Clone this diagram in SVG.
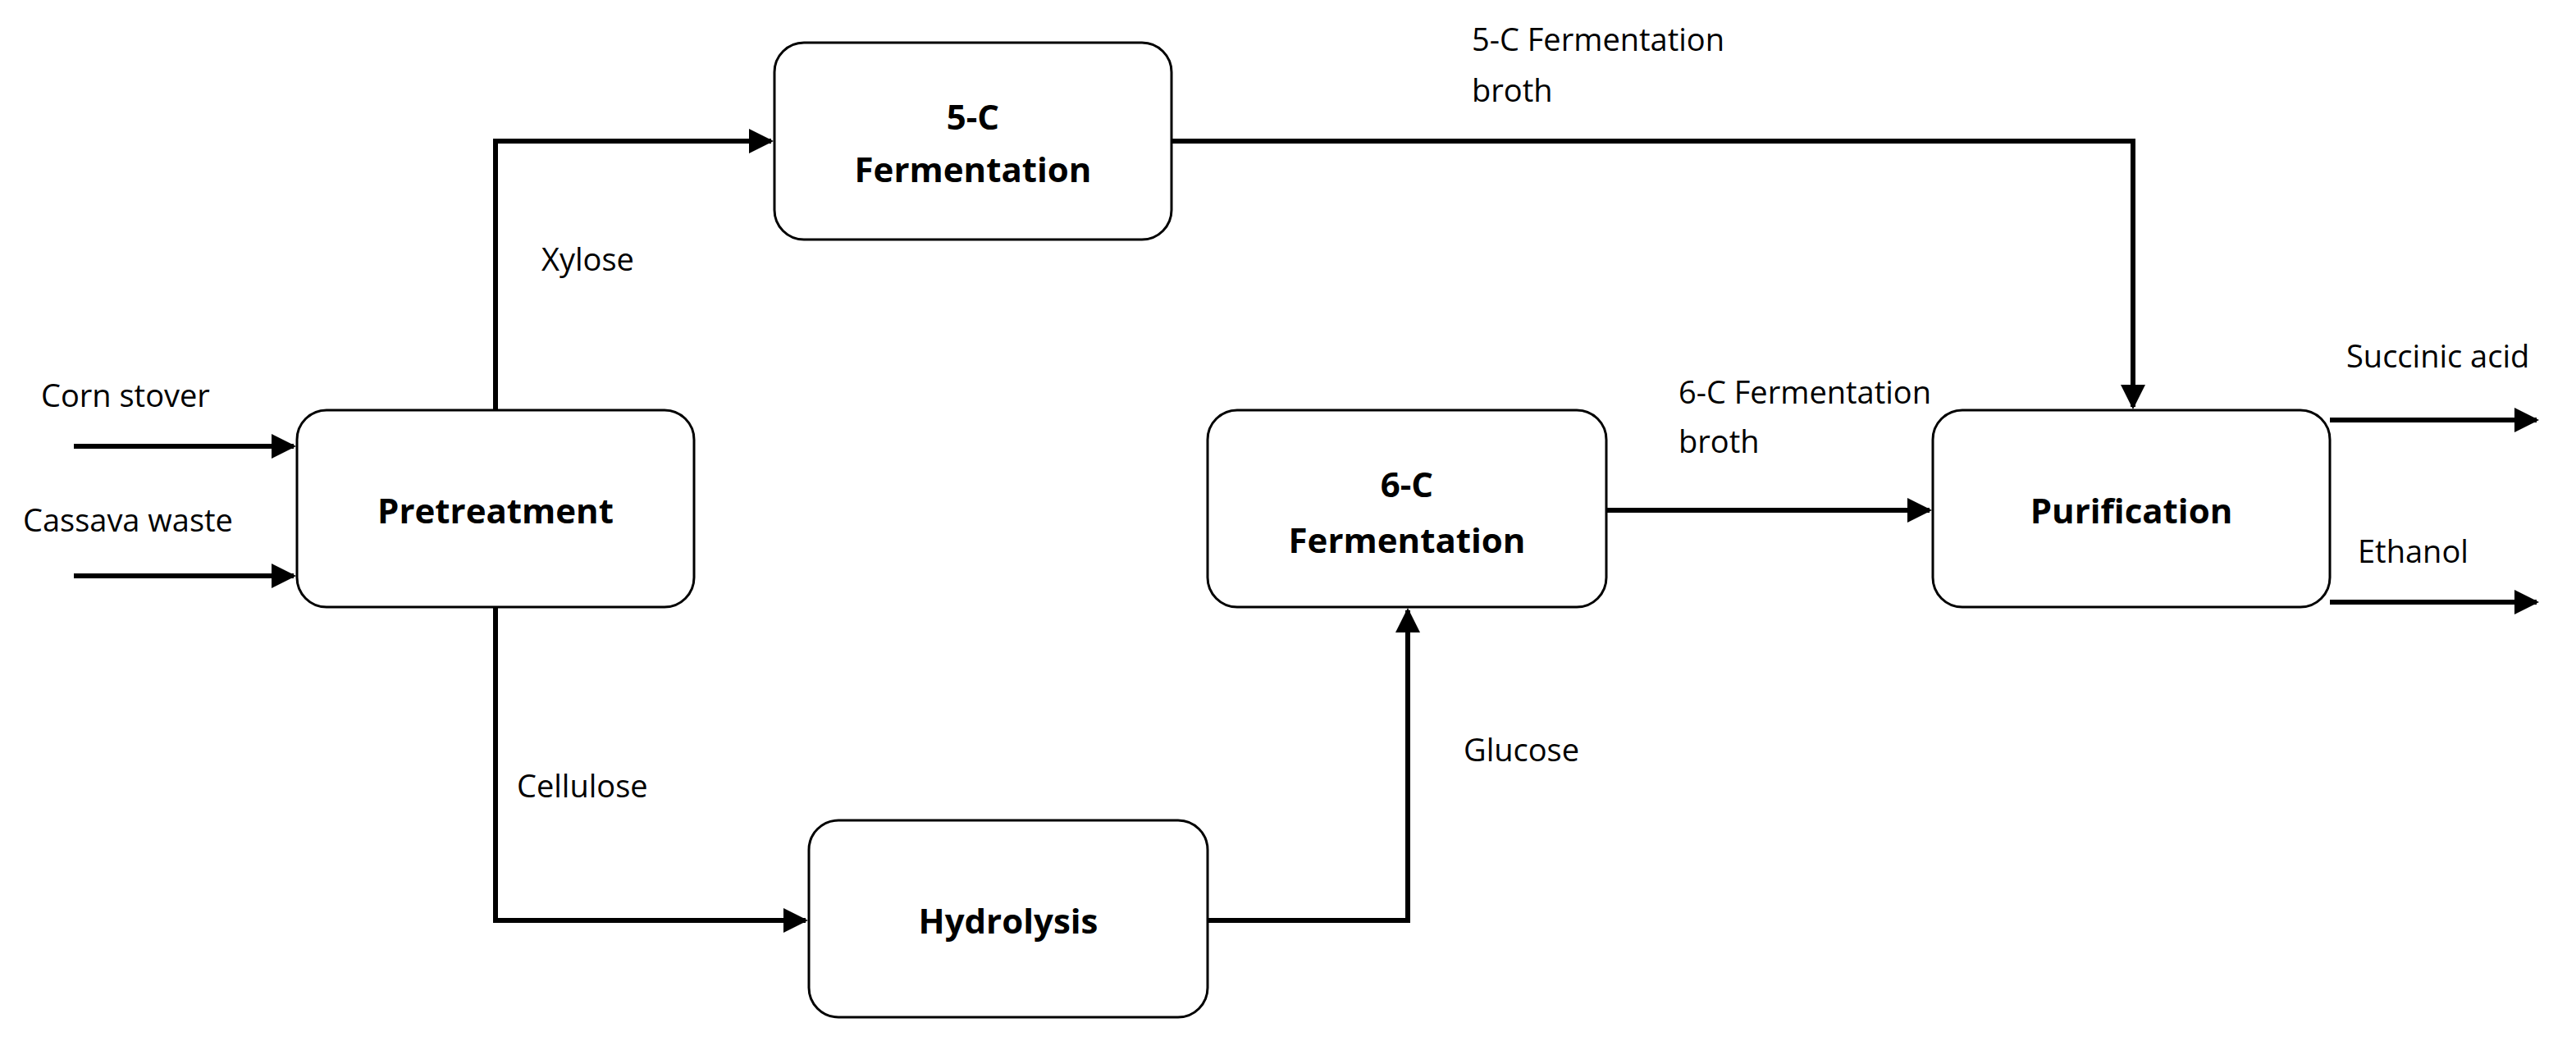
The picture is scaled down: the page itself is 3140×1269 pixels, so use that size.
<svg xmlns="http://www.w3.org/2000/svg" width="3140" height="1269" viewBox="0 0 3140 1269">
<style>
.box{fill:#fff;stroke:#000;stroke-width:3}
.bt{font-family:"Open Sans","Liberation Sans",sans-serif;font-weight:bold;font-size:42px;text-anchor:middle}
.lt{font-family:"Open Sans","Liberation Sans",sans-serif;font-size:38px}
.c{fill:none;stroke:#000;stroke-width:6}
</style>
<defs><marker id="a" markerWidth="5" markerHeight="5" refX="4.5" refY="2.5" orient="auto" markerUnits="strokeWidth"><path d="M0,0 L5,2.5 L0,5 z" fill="#000"/></marker></defs>
<rect width="3140" height="1269" fill="#fff"/>
<g id="connectors">
<path class="c" d="M90,544 H358" marker-end="url(#a)"/>
<path class="c" d="M90,702 H358" marker-end="url(#a)"/>
<path class="c" d="M604,500 V172 H940" marker-end="url(#a)"/>
<path class="c" d="M604,740 V1122 H982" marker-end="url(#a)"/>
<path class="c" d="M1472,1122 H1716 V744" marker-end="url(#a)"/>
<path class="c" d="M1428,172 H2600 V496" marker-end="url(#a)"/>
<path class="c" d="M1958,622 H2352" marker-end="url(#a)"/>
<path class="c" d="M2840,512 H3092" marker-end="url(#a)"/>
<path class="c" d="M2840,734 H3092" marker-end="url(#a)"/>
</g>
<g id="pretreatment"><rect class="box" x="362" y="500" width="484" height="240" rx="36"/><text class="bt" x="604" y="638">Pretreatment</text></g>
<g id="ferm5"><rect class="box" x="944" y="52" width="484" height="240" rx="36"/><text class="bt" x="1186" y="158">5-C</text><text class="bt" x="1186" y="222">Fermentation</text></g>
<g id="ferm6"><rect class="box" x="1472" y="500" width="486" height="240" rx="36"/><text class="bt" x="1715" y="606">6-C</text><text class="bt" x="1715" y="674">Fermentation</text></g>
<g id="hydrolysis"><rect class="box" x="986" y="1000" width="486" height="240" rx="36"/><text class="bt" x="1229" y="1138">Hydrolysis</text></g>
<g id="purification"><rect class="box" x="2356" y="500" width="484" height="240" rx="36"/><text class="bt" x="2598" y="638">Purification</text></g>
<g id="labels">
<text class="lt" x="50" y="496">Corn stover</text>
<text class="lt" x="28" y="648">Cassava waste</text>
<text class="lt" x="660" y="330">Xylose</text>
<text class="lt" x="630" y="972">Cellulose</text>
<text class="lt" x="1784" y="928">Glucose</text>
<text class="lt" x="1794" y="62">5-C Fermentation</text>
<text class="lt" x="1794" y="124">broth</text>
<text class="lt" x="2046" y="492">6-C Fermentation</text>
<text class="lt" x="2046" y="552">broth</text>
<text class="lt" x="2860" y="448">Succinic acid</text>
<text class="lt" x="2874" y="686">Ethanol</text>
</g>
</svg>
